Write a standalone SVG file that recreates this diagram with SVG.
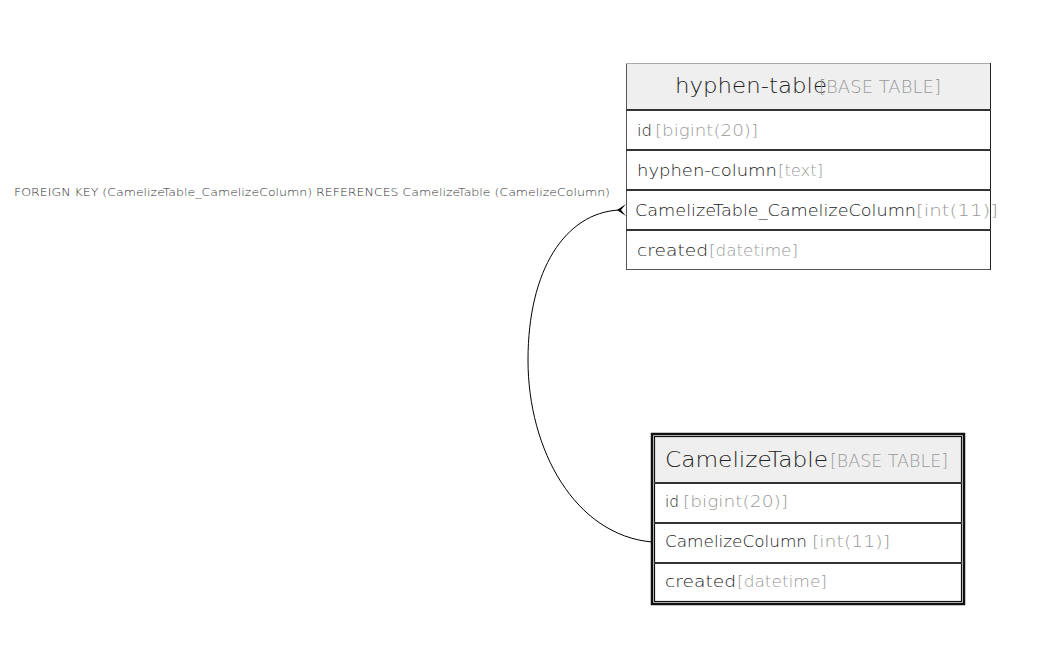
<svg xmlns="http://www.w3.org/2000/svg" width="1053" height="669" viewBox="0 0 1053 669">
<style>
text{font-family:"DejaVu Sans","Open Sans",sans-serif;font-weight:200}
.hdr{fill:#efefef}
.tname{font-size:22px;fill:#222}
.ttype{font-size:17px;fill:#999}
.col{font-size:16px;fill:#222}
.ctype{font-size:16px;fill:#999}
.sep{stroke:#333;stroke-width:2}
.lbl{font-size:11px;fill:#333}
</style>
<rect width="1053" height="669" fill="#fff"/>
<g id="hyphen-table">
<rect x="626.5" y="63.5" width="364" height="206" fill="#fff" stroke="#555" stroke-width="1"/>
<rect x="627" y="64" width="363" height="46" class="hdr"/>
<line x1="626" y1="63.5" x2="991" y2="63.5" stroke="#aaa"/>
<line x1="990.5" y1="63" x2="990.5" y2="270" stroke="#222"/>
<line x1="626" y1="110" x2="991" y2="110" class="sep"/>
<line x1="626" y1="150" x2="991" y2="150" class="sep"/>
<line x1="626" y1="190" x2="991" y2="190" class="sep"/>
<line x1="626" y1="230" x2="991" y2="230" class="sep"/>
<text x="675" y="93" class="tname" textLength="152" lengthAdjust="spacingAndGlyphs">hyphen-table</text>
<text x="819" y="93" class="ttype" textLength="122" lengthAdjust="spacingAndGlyphs">[BASE TABLE]</text>
<text x="637" y="136" class="col" textLength="15" lengthAdjust="spacingAndGlyphs">id</text>
<text x="655" y="136" class="ctype" textLength="103" lengthAdjust="spacingAndGlyphs">[bigint(20)]</text>
<text x="637" y="176" class="col" textLength="140" lengthAdjust="spacingAndGlyphs">hyphen-column</text>
<text x="778" y="176" class="ctype" textLength="45" lengthAdjust="spacingAndGlyphs">[text]</text>
<text x="635" y="216" class="col" textLength="281" lengthAdjust="spacingAndGlyphs">CamelizeTable_CamelizeColumn</text>
<text x="916" y="216" class="ctype" textLength="82" lengthAdjust="spacingAndGlyphs">[int(11)]</text>
<text x="637" y="256" class="col" textLength="71" lengthAdjust="spacingAndGlyphs">created</text>
<text x="709" y="256" class="ctype" textLength="89" lengthAdjust="spacingAndGlyphs">[datetime]</text>
</g>
<g id="CamelizeTable">
<rect x="652" y="434" width="312" height="170" fill="#fff" stroke="#111" stroke-width="2.5"/>
<rect x="655" y="437" width="306" height="46" class="hdr"/>
<rect x="654.5" y="436.5" width="307" height="165" fill="none" stroke="#111" stroke-width="1.2"/>
<line x1="654" y1="483" x2="962" y2="483" class="sep"/>
<line x1="654" y1="523" x2="962" y2="523" class="sep"/>
<line x1="654" y1="563" x2="962" y2="563" class="sep"/>
<text x="665" y="467" class="tname" textLength="163" lengthAdjust="spacingAndGlyphs">CamelizeTable</text>
<text x="830" y="467" class="ttype" textLength="118" lengthAdjust="spacingAndGlyphs">[BASE TABLE]</text>
<text x="665" y="507" class="col" textLength="14" lengthAdjust="spacingAndGlyphs">id</text>
<text x="683" y="507" class="ctype" textLength="105" lengthAdjust="spacingAndGlyphs">[bigint(20)]</text>
<text x="665" y="547" class="col" textLength="142" lengthAdjust="spacingAndGlyphs">CamelizeColumn</text>
<text x="812" y="547" class="ctype" textLength="78" lengthAdjust="spacingAndGlyphs">[int(11)]</text>
<text x="665" y="587" class="col" textLength="71" lengthAdjust="spacingAndGlyphs">created</text>
<text x="737" y="587" class="ctype" textLength="90" lengthAdjust="spacingAndGlyphs">[datetime]</text>
</g>
<g id="connectors">
<path d="M652,542 C575,535 528,450 528,360 C528,270 565,213 619,210" fill="none" stroke="#000" stroke-width="1"/>
<path d="M626,204 L617,210 L626,216 L621,210 Z" fill="#000"/>
<text x="14" y="196" class="lbl" textLength="596" lengthAdjust="spacingAndGlyphs">FOREIGN KEY (CamelizeTable_CamelizeColumn) REFERENCES CamelizeTable (CamelizeColumn)</text>
</g>
</svg>
